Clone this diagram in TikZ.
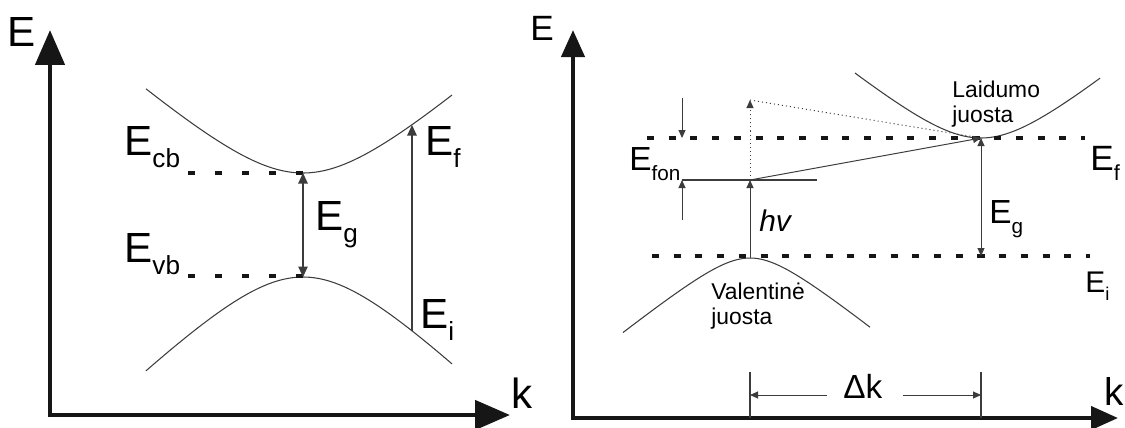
\documentclass[tikz,border=0pt]{standalone}
\usepackage{fontspec}
\setmainfont{Liberation Sans}
\usepackage{graphicx}
\usetikzlibrary{arrows.meta,positioning}
\definecolor{axisink}{HTML}{161616}
\definecolor{curveink}{HTML}{3C3C3C}
\newcommand{\lowsub}[1]{\raisebox{-0.3em}{\scalebox{0.62}{#1}}}
\tikzset{
    bigaxis/.style={draw=axisink,line width=2.7pt,line join=miter,
      {Triangle[length=7mm,width=5.8mm]}-{Triangle[length=7mm,width=5.8mm]}},
    smallaxis/.style={draw=axisink,line width=2.4pt,line join=miter,
      {Triangle[length=5.4mm,width=4.6mm]}-{Triangle[length=5.4mm,width=4.6mm]}},
    bandline/.style={draw=curveink,line width=0.6pt},
    leveldash/.style={draw=axisink,line width=1.9pt,dash pattern=on 4pt off 11.4pt},
    leveldashR/.style={leveldash,dash pattern=on 4pt off 8.35pt},
    arrowL/.style={-{Triangle[length=2.1mm,width=1.9mm]},draw=curveink,line width=0.6pt},
    arrowR/.style={-{Triangle[length=1.6mm,width=1.4mm]},draw=curveink,line width=0.55pt},
    gapL/.style={arrowL,{Triangle[length=2.1mm,width=1.9mm]}-{Triangle[length=2.1mm,width=1.9mm]}},
    gapR/.style={arrowR,{Triangle[length=1.6mm,width=1.4mm]}-{Triangle[length=1.6mm,width=1.4mm]}},
    virtual/.style={draw=curveink,line width=0.55pt,dash pattern=on 0.6pt off 1.7pt},
    biglabel/.style={inner sep=0pt,anchor=base west,font=\fontsize{24}{28}\selectfont},
    midlabel/.style={inner sep=0pt,anchor=base west,font=\fontsize{19}{23}\selectfont},
    bandtext/.style={inner sep=0pt,anchor=north west,align=left,
      font=\fontsize{13}{14.2}\selectfont}
}

\begin{document}
\begin{tikzpicture}[x=0.02cm,y=-0.02cm]
  \useasboundingbox (0,0) rectangle (1125,427);
  % direct gap
  \coordinate (eL) at (50,30);
  \coordinate (oL) at (50,415);
  \coordinate (kL) at (510,415);
  \draw[bigaxis] (eL) -- (oL) -- (kL);
  \node[biglabel] (Eaxis) at (7,46) {E};
  \node[biglabel] (kaxis) at (511,408) {k};
  \draw[bandline,domain=146:452,samples=61]
    plot (\x,{173-70*(sqrt(1+((\x-303)/80)^2)-1)});
  \draw[bandline,domain=146:452,samples=61]
    plot (\x,{277+78*(sqrt(1+((\x-303)/80)^2)-1)});
  \coordinate (cbmin) at (303,173);
  \coordinate (vbmax) at (303,277);
  \coordinate (cbdash) at (188,173);
  \coordinate (vbdash) at (188,276);
  \draw[leveldash] (cbdash) -- (cbmin);
  \draw[leveldash] (vbdash) -- (vbmax |- vbdash);
  \draw[gapL] (vbmax) -- (cbmin);
  \node[biglabel] (Ecb) at (124,155) {E\lowsub{cb}};
  \node[biglabel] (Evb) at (124,262) {E\lowsub{vb}};
  \node[biglabel] (EgL) at (315,230) {E\lowsub{g}};
  \coordinate (iniL) at (412,331);
  \coordinate (finL) at (412,125);
  \draw[arrowL] (iniL) -- (finL);
  \node[biglabel] (EfL) at (425,155) {E\lowsub{f}};
  \node[biglabel] (EiL) at (420,328) {E\lowsub{i}};
  % indirect gap
  \coordinate (eR) at (573,30);
  \coordinate (oR) at (573,418);
  \coordinate (kR) at (1118,418);
  \draw[smallaxis] (eR) -- (oR) -- (kR);
  \node[inner sep=0pt,anchor=base west,font=\fontsize{20}{24}\selectfont]
    (EaxisR) at (530,40) {E};
  \node[inner sep=0pt,anchor=base west,font=\fontsize{22}{26}\selectfont]
    (kaxisR) at (1104,405) {k};
  \draw[bandline,domain=623:870,samples=61]
    plot (\x,{258+32*(sqrt(1+((\x-750)/40)^2)-1)});
  \draw[bandline,domain=855:1100,samples=61]
    plot (\x,{138-49*(sqrt(1+((\x-981)/60)^2)-1)});
  \coordinate (vtop) at (750,258);
  \coordinate (cmin) at (981,138);
  \coordinate (cbot) at (981,256);
  \coordinate (EfS) at (647,138);
  \coordinate (EfE) at (1085,138);
  \coordinate (EiS) at (652,256);
  \coordinate (EiE) at (1090,256);
  \draw[leveldashR] (EfS) -- (EfE);
  \draw[leveldashR] (EiS) -- (EiE);
  \coordinate (phon) at (750,180);
  \coordinate (virt) at (750,100);
  \coordinate (fonL) at (682,180);
  \coordinate (fonR) at (817,180);
  \draw[bandline] (fonL) -- (fonR);
  \draw[arrowR] (vtop) -- (phon);
  \draw[arrowR,virtual] (phon) -- (virt);
  \draw[virtual] (virt) -- (cmin);
  \draw[arrowR] (phon) -- (cmin);
  \draw[gapR] (cbot) -- (cmin);
  \coordinate (fonTop) at (682,98);
  \coordinate (fonUp) at (682,138);
  \coordinate (fonBot) at (682,220);
  \draw[arrowR] (fonTop) -- (fonUp);
  \draw[arrowR] (fonBot) -- (fonL);
  \node[midlabel] (Efon) at (629,170) {E\lowsub{fon}};
  \node[inner sep=0pt,anchor=base west,font=\fontsize{17}{21}\selectfont]
    (hnu) at (759,231) {\textit{hv}};
  \node[midlabel] (EgR) at (989,223) {E\lowsub{g}};
  \node[inner sep=0pt,anchor=base west,font=\fontsize{20}{24}\selectfont]
    (EfR) at (1090,170) {E\lowsub{f}};
  \node[inner sep=0pt,anchor=base west,font=\fontsize{17}{21}\selectfont]
    (EiR) at (1085,292) {E\lowsub{i}};
  \node[bandtext] (cband) at (952,81) {Laidumo\\juosta};
  \node[bandtext] (vband) at (711,283) {Valentinė\\juosta};
  \coordinate (dkLa) at (750,372);
  \coordinate (dkRa) at (981,372);
  \draw[bandline] (dkLa) -- (dkLa |- oR);
  \draw[bandline] (dkRa) -- (dkRa |- oR);
  \node[midlabel] (dk) at (843,398) {Δk};
  \coordinate (dkLs) at (827,395);
  \coordinate (dkRs) at (903,395);
  \draw[arrowR] (dkLs) -- (dkLs -| dkLa);
  \draw[arrowR] (dkRs) -- (dkRs -| dkRa);
\end{tikzpicture}
\end{document}
